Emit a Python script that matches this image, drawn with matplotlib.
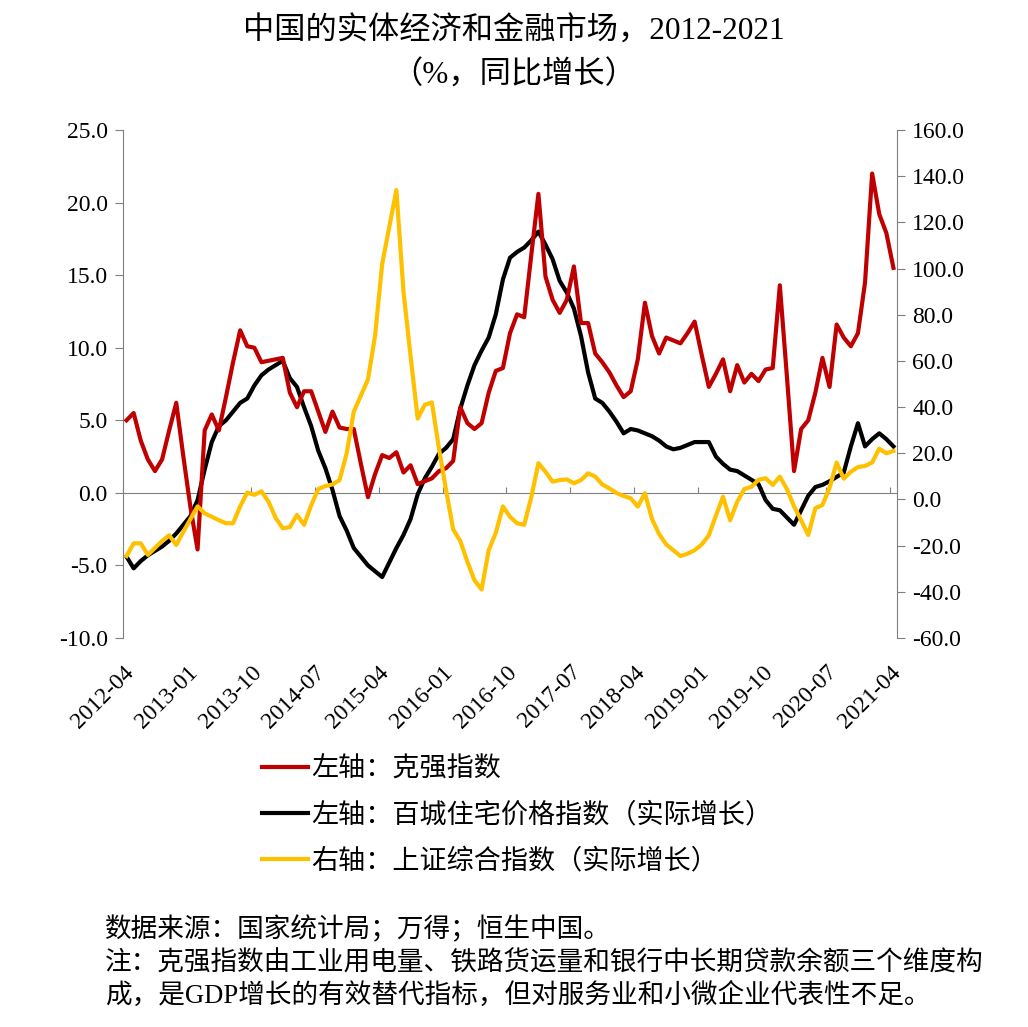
import matplotlib
matplotlib.use('Agg')
import matplotlib.pyplot as plt
from matplotlib.ticker import FormatStrFormatter
import numpy as np

FAM = ['Liberation Serif', 'Noto Sans CJK SC']
plt.rcParams['font.family'] = FAM
plt.rcParams['axes.unicode_minus'] = False

# ---------------- data ----------------
months = []
for yr in range(2012, 2022):
    for mo in range(1, 13):
        s = f"{yr}-{mo:02d}"
        if "2012-04" <= s <= "2021-04":
            months.append(s)

tick_labels = ["2012-04", "2013-01", "2013-10", "2014-07", "2015-04", "2016-01",
               "2016-10", "2017-07", "2018-04", "2019-01", "2019-10", "2020-07", "2021-04"]

# 左轴：克强指数
keqiang = [5.0, 5.5, 3.6, 2.3, 1.5, 2.3, 4.3, 6.2, 2.5, -1.0,
           -3.9, 4.3, 5.4, 4.3, 6.6, 9.0, 11.2, 10.1, 10.0, 9.0,
           9.1, 9.2, 9.3, 6.9, 5.9, 7.0, 7.0, 5.6, 4.2, 5.6,
           4.5, 4.4, 4.4, 2.0, -0.3, 1.3, 2.6, 2.4, 2.8, 1.4,
           1.9, 0.6, 0.8, 1.0, 1.5, 1.7, 2.2, 5.9, 4.8, 4.4,
           4.8, 6.9, 8.4, 8.6, 11.0, 12.3, 12.1, 16.4, 20.6, 14.9,
           13.3, 12.4, 13.3, 15.6, 11.7, 11.7, 9.6, 9.0, 8.3, 7.4,
           6.6, 7.0, 9.2, 13.1, 10.8, 9.6, 10.7, 10.5, 10.3, 11.0,
           11.8, 9.5, 7.3, 8.2, 9.2, 7.0, 8.8, 7.6, 8.2, 7.7,
           8.5, 8.6, 14.3, 8.0, 1.5, 4.4, 5.0, 6.9, 9.3, 7.3,
           11.6, 10.7, 10.1, 11.0, 14.5, 22.0, 19.2, 17.9, 15.5]

# 左轴：百城住宅价格指数（实际增长）
house = [-4.4, -5.2, -4.7, -4.3, -4.0, -3.7, -3.3, -2.8, -2.2, -1.6,
         -0.5, 1.6, 3.5, 4.6, 5.0, 5.6, 6.2, 6.5, 7.4, 8.1,
         8.5, 8.8, 9.1, 7.9, 7.3, 5.9, 4.6, 2.9, 1.7, 0.2,
         -1.6, -2.6, -3.8, -4.4, -5.0, -5.4, -5.8, -4.8, -3.8, -2.9,
         -1.8, -0.1, 1.0, 1.8, 2.7, 3.1, 3.7, 5.8, 7.4, 8.8,
         9.8, 10.7, 12.3, 14.7, 16.2, 16.6, 16.9, 17.4, 18.0, 17.1,
         16.1, 14.6, 13.8, 12.7, 10.8, 8.3, 6.5, 6.2, 5.6, 4.9,
         4.1, 4.4, 4.3, 4.1, 3.9, 3.6, 3.2, 3.0, 3.1, 3.3,
         3.5, 3.5, 3.5, 2.5, 2.0, 1.6, 1.5, 1.2, 0.9, 0.6,
         -0.5, -1.1, -1.2, -1.7, -2.2, -1.2, -0.2, 0.4, 0.55, 0.8,
         1.1, 1.4, 3.2, 4.8, 3.2, 3.7, 4.1, 3.7, 3.2]

# 右轴：上证综合指数（实际增长）
sse = [-24.5, -19.0, -19.0, -24.0, -21.0, -18.0, -15.5, -19.7, -14.0, -8.5,
       -3.0, -6.0, -7.5, -9.0, -10.3, -10.3, -3.0, 3.0, 2.0, 3.5,
       -1.0, -8.0, -12.5, -12.0, -6.7, -11.0, -2.5, 4.5, 5.8, 6.5,
       8.4, 20.0, 38.0, 45.0, 52.0, 71.0, 102.0, 118.0, 134.0, 90.0,
       62.0, 35.0, 41.0, 42.0, 22.0, 4.0, -13.0, -18.0, -27.0, -35.0,
       -39.0, -22.0, -14.5, -3.0, -7.5, -10.3, -11.0, 1.0, 15.7, 12.0,
       7.7, 8.4, 8.7, 7.0, 8.4, 11.3, 9.9, 6.5, 4.8, 2.8,
       1.5, 0.5, -3.1, 2.7, -8.5, -15.0, -19.5, -22.0, -24.5, -23.5,
       -22.0, -19.5, -15.5, -7.0, 1.2, -9.0, -1.0, 4.5, 5.5, 8.5,
       9.2, 6.3, 9.9, 4.5, -3.0, -9.0, -15.4, -3.8, -2.4, 5.0,
       16.0, 9.0, 12.0, 14.0, 14.5, 16.0, 22.0, 20.0, 21.0]

labels = ["左轴：克强指数", "左轴：百城住宅价格指数（实际增长）", "右轴：上证综合指数（实际增长）"]
colors = ["#C00000", "#000000", "#FFC000"]

# ---------------- figure ----------------
W, H = 1028, 1027
fig = plt.figure(figsize=(W / 100, H / 100), dpi=100)
fig.patch.set_facecolor('white')
L, R, T, B = 123, 897, 130, 638
ax = fig.add_axes([L / W, 1 - B / H, (R - L) / W, (B - T) / H])
x = np.arange(len(months))

l1, = ax.plot(x, keqiang, color=colors[0], lw=3.0, solid_joinstyle='round', zorder=3)
l2, = ax.plot(x, house, color=colors[1], lw=3.0, solid_joinstyle='round', zorder=2)
ax2 = ax.twinx()
l3, = ax2.plot(x, sse, color=colors[2], lw=3.0, solid_joinstyle='round', zorder=3)

ax.set_xlim(-0.5, len(months) - 0.5)
ax.set_ylim(-10, 25)
ax2.set_ylim(-60, 160)
ax.set_yticks(np.arange(-10, 25.1, 5))
ax2.set_yticks(np.arange(-60, 160.1, 20))
ax.yaxis.set_major_formatter(FormatStrFormatter('%.1f'))
ax2.yaxis.set_major_formatter(FormatStrFormatter('%.1f'))

gray = '#7F7F7F'
for a in (ax, ax2):
    a.spines['top'].set_visible(False)
    a.spines['bottom'].set_visible(False)
ax.spines['right'].set_visible(False)
ax2.spines['left'].set_visible(False)
ax.spines['left'].set_color(gray)
ax2.spines['right'].set_color(gray)
ax.tick_params(axis='y', direction='out', length=6, color=gray, labelsize=17, pad=5)
ax2.tick_params(axis='y', direction='out', length=6, color=gray, labelsize=17, pad=5)

tick_pos = [months.index(t) - 0.5 for t in tick_labels]
ax.set_xticks(tick_pos)
ax.set_xticklabels(tick_labels, rotation=45, ha='right', va='top', rotation_mode='anchor', fontsize=17)
ax.tick_params(axis='x', length=0, pad=17)

sec = ax.secondary_xaxis(10 / 35)
sec.set_xticks(tick_pos)
sec.tick_params(axis='x', direction='in', length=4, color=gray, labelbottom=False)
sec.spines['bottom'].set_color(gray)

# title
fig.text(514 / W, 1 - 32 / H, "中国的实体经济和金融市场，2012-2021", ha='center', va='center', fontsize=22.5)
fig.text(514 / W, 1 - 76 / H, "（%，同比增长）", ha='center', va='center', fontsize=22.5)

# legend
fig.legend([l1, l2, l3], labels, loc='upper left', bbox_to_anchor=(262 / W, 1 - 757 / H),
           frameon=False, fontsize=19.5, handlelength=1.7, handletextpad=0.12,
           labelspacing=0.74, borderpad=0, borderaxespad=0)

# notes
notes = ["数据来源：国家统计局；万得；恒生中国。",
         "注：克强指数由工业用电量、铁路货运量和银行中长期贷款余额三个维度构",
         "成，是GDP增长的有效替代指标，但对服务业和小微企业代表性不足。"]
for t, yy in zip(notes, [930, 964, 997]):
    fig.text(105 / W, 1 - yy / H, t, ha='left', va='center', fontsize=19.2)

fig.savefig('out.png', dpi=100, facecolor='white')
